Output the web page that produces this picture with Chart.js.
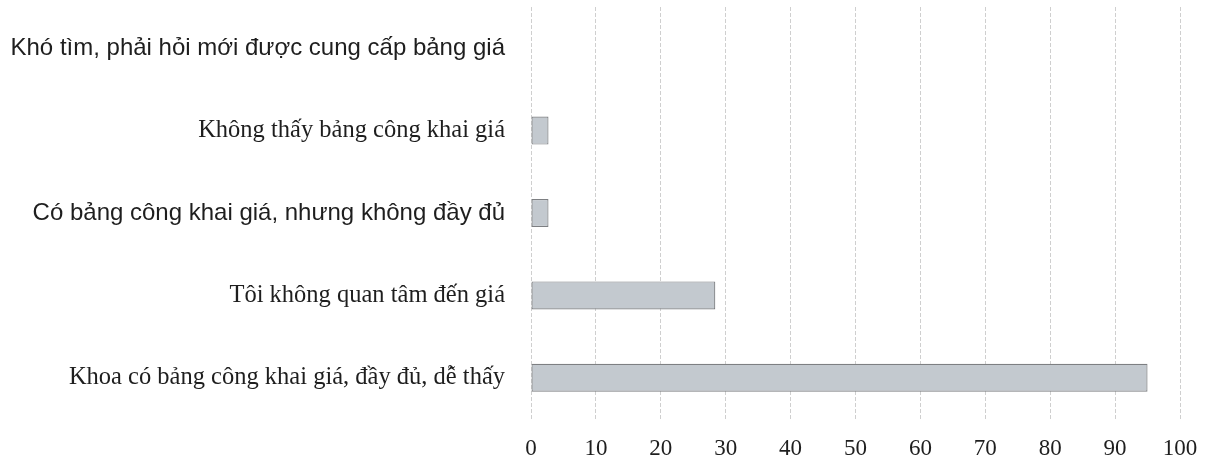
<!DOCTYPE html>
<html>
<head>
<meta charset="utf-8">
<script src="https://cdn.jsdelivr.net/npm/chart.js@4/dist/chart.umd.min.js"></script>
<style>
  html, body { margin: 0; padding: 0; background: #fff; }
  #wrap { width: 1210px; height: 464px; }
</style>
</head>
<body>
<div id="wrap"><canvas id="chart" width="1210" height="464"></canvas></div>
<script>
// Answer categories (top to bottom) and share of respondents (%)
const categories = [
  "Khó tìm, phải hỏi mới được cung cấp bảng giá",
  "Không thấy bảng công khai giá",
  "Có bảng công khai giá, nhưng không đầy đủ",
  "Tôi không quan tâm đến giá",
  "Khoa có bảng công khai giá, đầy đủ, dễ thấy"
];
const values = [0, 2.7, 2.7, 28.4, 95];
const xTicks = [0, 10, 20, 30, 40, 50, 60, 70, 80, 90, 100];
// Which category labels are set in the sans face
const sansLabels = [true, false, true, false, false];

const serif = "'Liberation Serif', 'DejaVu Serif', serif";
const sans = "'Liberation Sans', Arial, sans-serif";

new Chart(document.getElementById('chart'), {
  type: 'bar',
  data: {
    labels: categories,
    datasets: [{
      data: values,
      backgroundColor: '#c3c9cf',
      borderColor: '#7d7f82',
      borderWidth: 1.2,
      borderSkipped: false,
      categoryPercentage: 1,
      barPercentage: 0.34
    }]
  },
  options: {
    indexAxis: 'y',
    responsive: false,
    animation: false,
    layout: { padding: { top: 7, right: 30, left: 0, bottom: 0 } },
    plugins: { legend: { display: false }, tooltip: { enabled: false } },
    scales: {
      x: {
        min: 0,
        max: 100,
        afterBuildTicks: (s) => { s.ticks = xTicks.map(v => ({ value: v })); },
        afterFit: (s) => { s.height = 45; s.paddingLeft = 0; s.paddingRight = 0; },
        grid: {
          color: '#cfcfcf',
          lineWidth: 1,
          drawTicks: false
        },
        border: { display: false, dash: [4, 2] },
        ticks: {
          padding: 16,
          color: '#1e1e1e',
          font: { family: serif, size: 23 }
        }
      },
      y: {
        afterFit: (s) => { s.width = 531; s.paddingTop = 0; s.paddingBottom = 0; },
        grid: { display: false, drawTicks: false },
        border: { display: false },
        ticks: {
          padding: 26,
          color: '#1e1e1e',
          font: (ctx) => sansLabels[ctx.index]
            ? { family: sans, size: 24 }
            : { family: serif, size: 24.5 }
        }
      }
    }
  }
});
</script>
</body>
</html>
